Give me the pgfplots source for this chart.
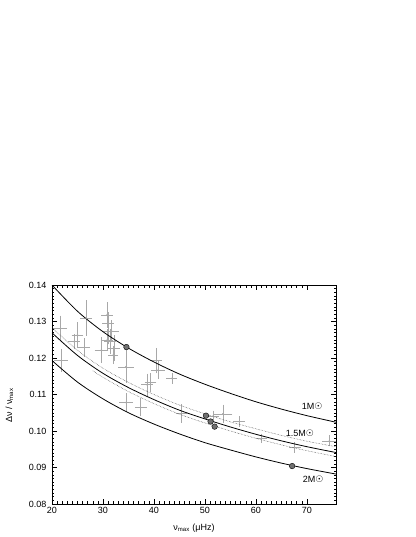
\documentclass[border=0pt]{standalone}
\usepackage{fontspec}
\setmainfont{Liberation Sans}
\newfontfamily\dejavu{DejaVu Sans}
\usepackage{pgfplots}
\pgfplotsset{compat=1.18}
\definecolor{errgrey}{HTML}{A8A8A8}
\definecolor{dotgrey}{HTML}{707070}

% grey stars with error bars
\pgfplotstableread{
x     y       ex   ey
21.6  0.1281  1.0  0.0030
21.8  0.1193  1.0  0.0027
24.3  0.1245  0.8  0.0015
25.0  0.1263  0.8  0.0030
26.3  0.1229  0.8  0.0020
26.7  0.1309  0.8  0.0044
29.7  0.1222  1.0  0.0030
30.8  0.1318  0.8  0.0030
31.0  0.1295  0.8  0.0025
31.0  0.1272  0.8  0.0030
31.7  0.1274  1.0  0.0025
30.8  0.1249  0.8  0.0025
31.4  0.1245  0.8  0.0030
32.2  0.1227  0.8  0.0030
32.0  0.1208  0.6  0.0020
34.5  0.1176  1.2  0.0040
34.5  0.1078  1.0  0.0020
37.4  0.1065  0.8  0.0020
38.6  0.1127  0.8  0.0025
39.3  0.1133  0.8  0.0020
40.4  0.1193  0.8  0.0030
40.8  0.1167  1.0  0.0020
43.5  0.1144  0.7  0.0010
45.4  0.1048  0.8  0.0020
51.6  0.1041  0.8  0.0010
53.5  0.1047  1.5  0.0020
56.7  0.1026  0.8  0.0010
61.1  0.0980  0.8  0.0008
67.6  0.0955  0.8  0.0010
74.4  0.0973  1.0  0.0010
}\stars

% highlighted stars
\pgfplotstableread{
x     y
34.6  0.1230
50.2  0.1042
51.1  0.1026
51.9  0.1012
67.1  0.0904
}\highlighted

% model tracks
\pgfplotstableread{
x     m1      m15     m15up   m2
20    0.1400  0.1269  0.1283  0.1193
25    0.1328  0.1207  0.1221  0.1134
30    0.1272  0.1158  0.1172  0.1088
35    0.1227  0.1119  0.1133  0.1050
40    0.1189  0.1086  0.1100  0.1019
45    0.1156  0.1057  0.1071  0.0992
50    0.1128  0.1033  0.1047  0.0968
55    0.1103  0.1011  0.1025  0.0948
60    0.1080  0.0991  0.1006  0.0929
65    0.1060  0.0973  0.0988  0.0912
70    0.1042  0.0957  0.0972  0.0897
75.7  0.1024  0.0941  0.0957  0.0882
}\tracks

\pgfplotstableread{
x     y
28    0.1165
30    0.1147
35    0.1108
40    0.1075
45    0.1046
50    0.1022
55    0.1000
60    0.0980
65    0.0962
70    0.0946
75.7  0.0930
}\lowtrack

\newcommand\lab{\fontsize{9}{10.5}\selectfont}

\begin{document}
\begin{tikzpicture}[x=1pt,y=1pt]
\path[use as bounding box] (0,0) rectangle (415,537);
\begin{axis}[
  at={(52pt,33pt)}, anchor=south west,
  scale only axis, width=284pt, height=219pt,
  xmin=20, xmax=75.7, ymin=0.08, ymax=0.14,
  xtick={20,30,40,50,60,70},
  ytick={0.08,0.09,0.10,0.11,0.12,0.13,0.14},
  minor x tick num=9, minor y tick num=9,
  xtick pos=both, ytick pos=both,
  xticklabel pos=lower, yticklabel pos=left,
  tick align=inside,
  major tick length=5pt, minor tick length=2.5pt,
  every tick/.style={black, line width=0.5pt},
  axis line style={line width=0.7pt},
  ticklabel style={font=\lab},
  yticklabel style={xshift=-2pt, /pgf/number format/.cd, fixed, fixed zerofill, precision=2},
  /pgf/number format/assume math mode=true,
  scaled y ticks=false,
  xlabel={\lab ν\textsubscript{max} (μHz)},
  xlabel style={yshift=-3pt},
  ylabel={\lab Δν / ν\textsubscript{max}},
  ylabel style={at={(axis description cs:-0.150,0.45)}, anchor=center},
  clip=true,
]
\addplot[only marks, mark=*, mark size=0.5pt, errgrey,
  error bars/.cd, x dir=both, x explicit, y dir=both, y explicit,
  error mark=-,
  error bar style={errgrey, line width=0.5pt},
  error mark options={errgrey, mark size=1.8pt, line width=0.5pt}]
  table[x=x, y=y, x error=ex, y error=ey]{\stars};

\addplot[black, line width=0.8pt, smooth] table[x=x, y=m1]{\tracks};
\addplot[black, line width=0.8pt, smooth] table[x=x, y=m15]{\tracks};
\addplot[black!75, line width=0.5pt, densely dotted, smooth] table[x=x, y=m15up]{\tracks};
\addplot[black!75, line width=0.5pt, densely dotted, smooth] table[x=x, y=y]{\lowtrack};
\addplot[black, line width=0.8pt, smooth] table[x=x, y=m2]{\tracks};

\addplot[only marks, mark=*, mark size=2.8pt,
  mark options={fill=dotgrey, draw=black, line width=0.4pt}]
  table[x=x, y=y]{\highlighted};

\node[font=\lab] at (axis cs:71.0,0.1068) {1M{\dejavu ☉}};
\node[font=\lab] at (axis cs:68.6,0.0995) {1.5M{\dejavu ☉}};
\node[font=\lab] at (axis cs:71.2,0.0868) {2M{\dejavu ☉}};
\end{axis}
\end{tikzpicture}
\end{document}
